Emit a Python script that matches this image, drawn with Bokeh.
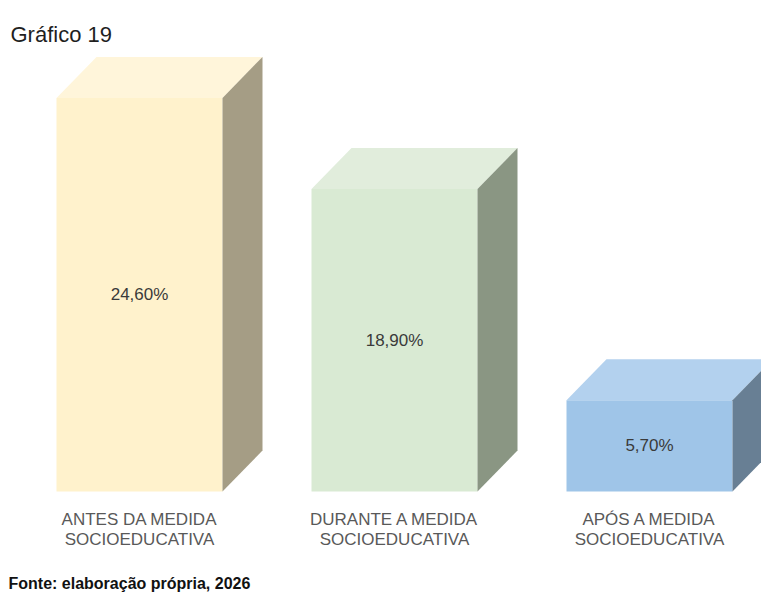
from bokeh.plotting import figure
from bokeh.models import Range1d, Label, ColumnDataSource
from bokeh.core.properties import value
from bokeh.embed import file_html
from bokeh.resources import INLINE

# ---- data ----
categories_line1 = ["ANTES DA MEDIDA", "DURANTE A MEDIDA", "APÓS A MEDIDA"]
categories_line2 = ["SOCIOEDUCATIVA", "SOCIOEDUCATIVA", "SOCIOEDUCATIVA"]
values = [24.6, 18.9, 5.7]
value_labels = ["24,60%", "18,90%", "5,70%"]
front_colors = ["#FFF2CC", "#D9EAD3", "#9FC5E8"]
top_colors = ["#FFF5DA", "#E1EDDC", "#B3D1EE"]
side_colors = ["#A59D85", "#8A9683", "#687F94"]
title_text = "Gráfico 19"
footer_text = "Fonte: elaboração própria, 2026"

FONT = "Liberation Sans"
W, H = 761, 592
X0, Y0 = 139, 491  # pixel position of first bar centre / baseline
PX_PER_X = 255.0   # pixels per category step
PX_PER_Y = 16.0    # pixels per percentage point
bar_w = 166 / PX_PER_X
dx = 40 / PX_PER_X
dy = 41 / PX_PER_Y

p = figure(width=W, height=H, output_backend="svg", toolbar_location=None,
           x_range=Range1d(-X0 / PX_PER_X, (W - X0) / PX_PER_X),
           y_range=Range1d(-(H - Y0) / PX_PER_Y, Y0 / PX_PER_Y),
           min_border=0, min_border_left=0, min_border_right=0,
           min_border_top=0, min_border_bottom=0)
p.xaxis.visible = False
p.yaxis.visible = False
p.grid.visible = False
p.outline_line_color = None
p.background_fill_color = "white"
p.border_fill_color = "white"

xs = list(range(len(values)))
left = [x - bar_w / 2 for x in xs]
right = [x + bar_w / 2 for x in xs]

# front faces
p.quad(left=left, right=right, bottom=[0] * len(values), top=values,
       fill_color=front_colors, line_color=None)

# top faces
top_xs = [[l, r, r + dx, l + dx] for l, r in zip(left, right)]
top_ys = [[v, v, v + dy, v + dy] for v in values]
p.patches(top_xs, top_ys, fill_color=top_colors, line_color=None)

# side faces
side_xs = [[r, r, r + dx, r + dx] for r in right]
side_ys = [[0, v, v + dy, dy] for v in values]
p.patches(side_xs, side_ys, fill_color=side_colors, line_color=None)

# value labels
src = ColumnDataSource(dict(x=xs, y=[v / 2 for v in values], t=value_labels))
p.text(x="x", y="y", text="t", source=src, text_align="center",
       text_baseline="middle", text_font=value(FONT), text_font_size="17px",
       text_color="#3a3a3a")

# category labels
p.text(x=xs, y=[-28 / PX_PER_Y] * len(xs), text=categories_line1,
       text_align="center", text_baseline="alphabetic",
       text_font=value(FONT), text_font_size="17px", text_color="#595959")
p.text(x=xs, y=[-48 / PX_PER_Y] * len(xs), text=categories_line2,
       text_align="center", text_baseline="alphabetic",
       text_font=value(FONT), text_font_size="17px", text_color="#595959")

# title and footer
p.add_layout(Label(x=10, y=H - 34, x_units="screen", y_units="screen",
                   text=title_text, text_font=FONT, text_font_size="22px",
                   text_color="#1f1f1f", text_baseline="alphabetic"))
p.add_layout(Label(x=8, y=9, x_units="screen", y_units="screen",
                   text=footer_text, text_font=FONT, text_font_size="16px",
                   text_font_style="bold", text_color="#111111",
                   text_baseline="alphabetic"))

open("out.html", "w").write(file_html(p, INLINE))
